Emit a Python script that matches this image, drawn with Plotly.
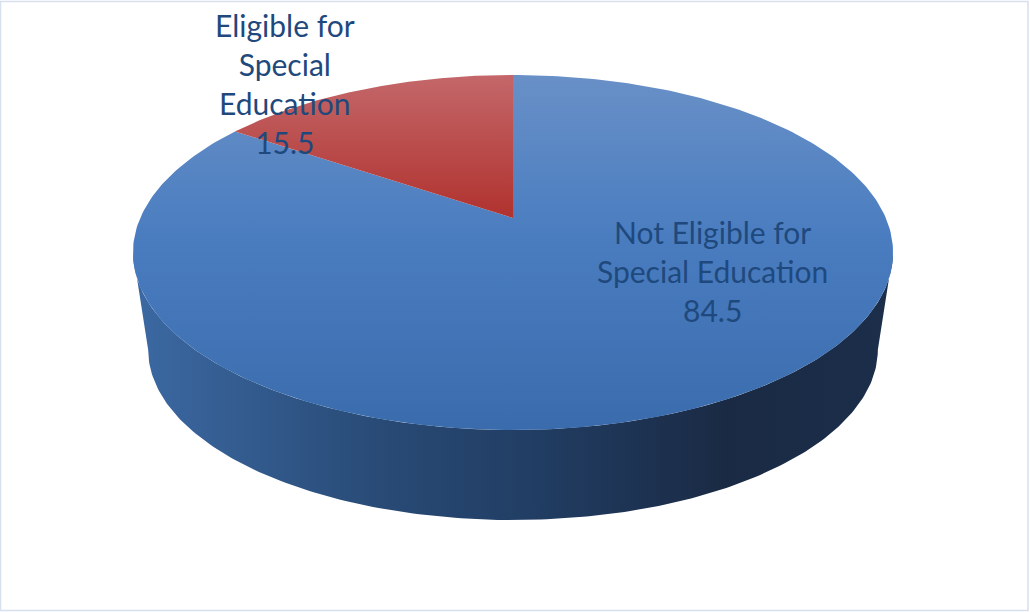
import numpy as np
import plotly.graph_objects as go

# ---- data ----
categories = ["Not Eligible for Special Education", "Eligible for Special Education"]
values = [84.5, 15.5]
label_text = ["Not Eligible for<br>Special Education", "Eligible for<br>Special<br>Education"]

# ---- style ----
# vertical gradients: position 0 = bottom of the face, 1 = top
top_scales = [
    [[0, "#3a6cad"], [0.55, "#4a7dc0"], [1, "#6990c7"]],
    [[0, "#b0322e"], [1, "#c4676a"]],
]
side_scales = [
    [[0, "#3c69a3"], [0.33, "#284a75"], [0.53, "#213d63"], [0.78, "#1a2a44"], [1, "#1b2e4a"]],
    [[0, "#a03030"], [1, "#6a1f1d"]],
]
label_pos = [(712, 271), (285, 83)]  # layout placement of the data labels (pixels)
TEXT_COLOR = "#1f497d"

# ---- geometry of the tilted pie (pixel space) ----
CX, CY = 513, 218      # projected centre of the top face
RX, RY = 372.8, 170.8  # projected radii
K = 0.1944             # perspective strength
SHRINK, DROP = 0.96, 98.5  # bottom rim: scale and drop


def rim(phi_deg, bottom=False):
    t = np.radians(phi_deg)
    x = np.sin(t)
    y = -np.cos(t)
    w = 1.0 / (1.0 - K * y)
    X = CX + RX * x * w
    Y = CY + RY * y * w
    if bottom:
        X = CX + SHRINK * (X - CX)
        Y = CY + SHRINK * (Y - CY) + DROP
    return X, Y


fig = go.Figure()

total = sum(values)
bounds = np.cumsum([0] + [v / total * 360 for v in values])
vis_lo = np.degrees(np.arccos(-K))
vis_hi = 360 - vis_lo

# sides (drawn first)
for i in range(len(values)):
    a0, a1 = max(bounds[i], vis_lo), min(bounds[i + 1], vis_hi)
    if a1 <= a0:
        continue
    ph = np.linspace(a0, a1, 200)
    tx, ty = rim(ph)
    bx, by = rim(ph[::-1], bottom=True)
    fig.add_trace(go.Scatter(
        x=np.concatenate([tx, bx]), y=np.concatenate([ty, by]),
        mode="lines", fill="toself", line=dict(width=0),
        fillgradient=dict(type="horizontal", colorscale=side_scales[i]),
        hoverinfo="skip", showlegend=False))

# top faces
for i in range(len(values)):
    ph = np.linspace(bounds[i], bounds[i + 1], 300)
    tx, ty = rim(ph)
    fig.add_trace(go.Scatter(
        x=np.concatenate([[CX], tx, [CX]]), y=np.concatenate([[CY], ty, [CY]]),
        mode="lines", fill="toself", line=dict(width=0),
        fillgradient=dict(type="vertical", colorscale=top_scales[i]),
        name=categories[i], hoverinfo="name", showlegend=False))

# data labels
for i in range(len(values)):
    fig.add_annotation(
        x=label_pos[i][0], y=label_pos[i][1], xref="x", yref="y",
        text=f"{label_text[i]}<br>{values[i]}", showarrow=False,
        xanchor="center", yanchor="middle", align="center",
        font=dict(family="Lato", size=30, color=TEXT_COLOR))

# chart border
fig.add_shape(type="rect", xref="x", yref="y", x0=0.5, x1=1028, y0=1.5, y1=610.5,
              line=dict(color="#d6e0ee", width=1.5), layer="below")

fig.update_layout(
    width=1030, height=612, margin=dict(l=0, r=0, t=0, b=0),
    paper_bgcolor="white", plot_bgcolor="white",
    xaxis=dict(range=[0, 1030], visible=False, fixedrange=True),
    yaxis=dict(range=[612, 0], visible=False, fixedrange=True),
)

fig.write_html("out.html", config={"displayModeBar": False},
               post_script="document.body.style.margin='0';document.body.style.overflow='hidden';")
